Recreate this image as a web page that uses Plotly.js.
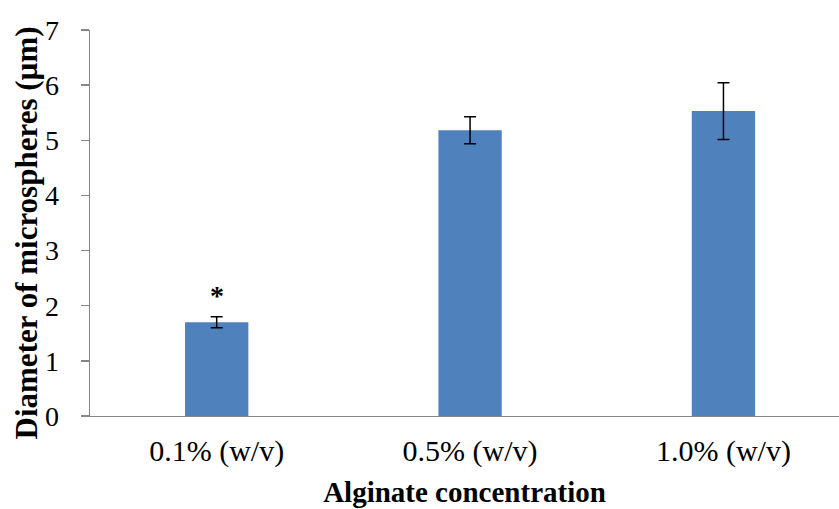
<!DOCTYPE html>
<html>
<head>
<meta charset="utf-8">
<script src="https://cdn.plot.ly/plotly-3.0.1.min.js"></script>
<style>
  html, body { margin: 0; padding: 0; background: #ffffff; overflow: hidden; }
  #chart { width: 839px; height: 509px; }
</style>
</head>
<body>
<div id="chart"></div>
<script>
// Alginate concentration vs. microsphere diameter (mean ± SD)
const categories = ["0.1% (w/v)", "0.5% (w/v)", "1.0% (w/v)"];
const diameters = [1.70, 5.18, 5.53];
const errors = [0.10, 0.245, 0.515];
const significance = ["*", "", ""];
const yTicks = [0, 1, 2, 3, 4, 5, 6, 7];
const xTitle = "Alginate concentration";
const yTitle = "Diameter of microspheres (µm)";

const serif = "'Liberation Serif', 'Times New Roman', serif";

const trace = {
  type: "bar",
  x: categories,
  y: diameters,
  marker: { color: "#4f81bd", line: { width: 0 } },
  error_y: {
    type: "data",
    array: errors,
    visible: true,
    color: "#000000",
    thickness: 1.5,
    width: 6
  },
  hoverinfo: "none"
};

// significance markers above the error bars
const annotations = categories
  .map((c, i) => ({ c, i }))
  .filter(d => significance[d.i])
  .map(d => ({
    x: d.c,
    y: diameters[d.i] + errors[d.i],
    xref: "x",
    yref: "y",
    text: significance[d.i],
    showarrow: false,
    yanchor: "bottom",
    yshift: 4,
    font: { family: serif, size: 28, color: "#000000", weight: "bold" }
  }));

// vertical axis title, set slightly below the plot's mid-height
annotations.push({
  xref: "paper",
  yref: "paper",
  x: -0.0854,
  y: 0.473,
  xanchor: "center",
  yanchor: "middle",
  textangle: -90,
  text: yTitle,
  showarrow: false,
  font: { family: serif, size: 31, color: "#000000", weight: "bold" }
});

const layout = {
  width: 839,
  height: 509,
  margin: { l: 90, r: 0, t: 30, b: 93, pad: 0 },
  paper_bgcolor: "#ffffff",
  plot_bgcolor: "#ffffff",
  bargap: 0.75,
  showlegend: false,
  xaxis: {
    type: "category",
    range: [-0.5, 2.456],
    showline: true,
    linecolor: "#868686",
    linewidth: 1.3,
    ticks: "",
    showgrid: false,
    zeroline: false,
    tickfont: { family: serif, size: 30, color: "#000000" },
    ticklabelstandoff: 8,
    title: {
      text: xTitle,
      font: { family: serif, size: 29, color: "#000000", weight: "bold" },
      standoff: 14
    }
  },
  yaxis: {
    range: [0, 7],
    tickvals: yTicks,
    ticktext: yTicks.map(String),
    showline: true,
    linecolor: "#868686",
    linewidth: 1.3,
    ticks: "outside",
    ticklen: 8,
    tickcolor: "#868686",
    tickwidth: 1.3,
    showgrid: false,
    zeroline: false,
    tickfont: { family: serif, size: 28, color: "#000000" },
    ticklabelstandoff: 16
  },
  annotations: annotations
};

Plotly.newPlot("chart", [trace], layout, { displayModeBar: false, staticPlot: true });
</script>
</body>
</html>
